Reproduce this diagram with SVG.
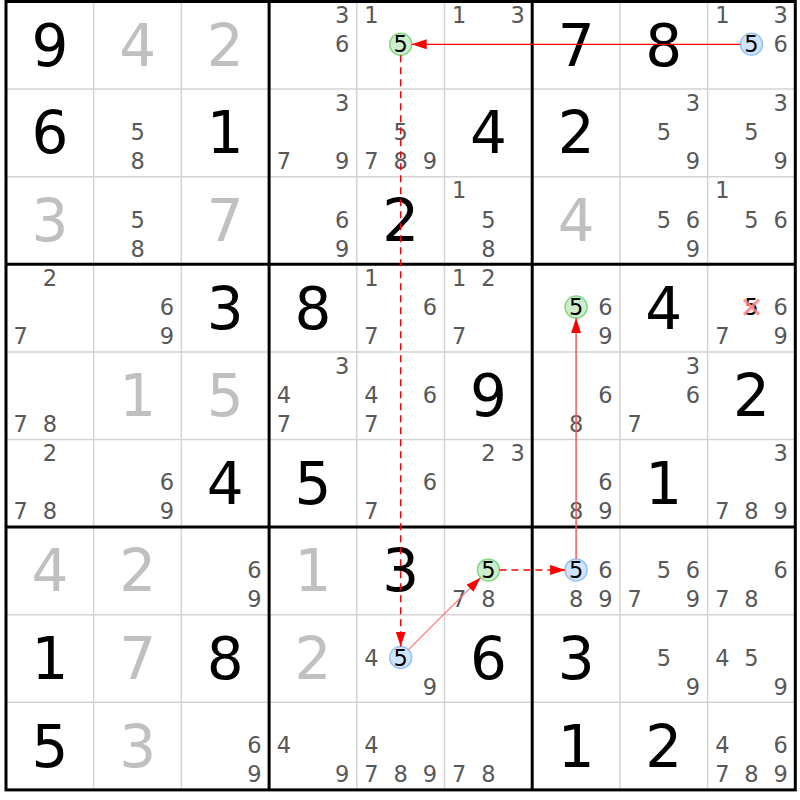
<svg xmlns="http://www.w3.org/2000/svg" width="800" height="800" viewBox="0 0 800 800">
<style>
text{font-family:"DejaVu Sans","Liberation Sans",sans-serif;text-anchor:middle}
.g{font-size:58px;fill:#000}
.h{font-size:58px;fill:#c0c0c0}
.c{font-size:22.5px;fill:#585858}
.k{font-size:22.5px;fill:#000}
.thin{stroke:#d4d4d4;stroke-width:1.5}
.thick{stroke:#000;stroke-width:3;fill:none}
.gc{fill:#cdeecd;stroke:#86d886;stroke-width:1.5}
.bc{fill:#cfe3fa;stroke:#98c4f2;stroke-width:1.5}
</style>
<defs>
<marker id="ah" markerUnits="userSpaceOnUse" markerWidth="16" markerHeight="11" refX="15" refY="5" orient="auto"><path d="M0,0 L15,5 L0,10 z" fill="#ff0000"/></marker>
</defs>
<rect width="800" height="800" fill="#fff"/>
<g id="grid">
<path class="thin" d="M93.7,1.5V789.9M181.4,1.5V789.9M356.8,1.5V789.9M444.5,1.5V789.9M619.9,1.5V789.9M707.6,1.5V789.9M6,89.1H795.3M6,176.7H795.3M6,351.9H795.3M6,439.5H795.3M6,614.7H795.3M6,702.3H795.3"/>
<path class="thick" d="M269.1,1.5V789.9M532.2,1.5V789.9M6,264.3H795.3M6,527.1H795.3"/>
<rect class="thick" x="6" y="1.5" width="789.3" height="788.4"/>
</g>
<g id="cells">
<g id="r1c1" transform="translate(49.9,45.3)"><text class="g" y="20.5">9</text></g>
<g id="r1c2" transform="translate(137.6,45.3)"><text class="h" y="20.5">4</text></g>
<g id="r1c3" transform="translate(225.3,45.3)"><text class="h" y="20.5">2</text></g>
<g id="r1c4" transform="translate(313,45.3)"><text class="c" x="29.2" y="-22.2">3</text><text class="c" x="29.2" y="7">6</text></g>
<g id="r1c5" transform="translate(400.7,45.3)"><text class="c" x="-29.2" y="-22.2">1</text><circle class="gc" cx="0" cy="-1" r="11"/><text class="k" x="0" y="7">5</text></g>
<g id="r1c6" transform="translate(488.4,45.3)"><text class="c" x="-29.2" y="-22.2">1</text><text class="c" x="29.2" y="-22.2">3</text></g>
<g id="r1c7" transform="translate(576.1,45.3)"><text class="g" y="20.5">7</text></g>
<g id="r1c8" transform="translate(663.8,45.3)"><text class="g" y="20.5">8</text></g>
<g id="r1c9" transform="translate(751.5,45.3)"><text class="c" x="-29.2" y="-22.2">1</text><text class="c" x="29.2" y="-22.2">3</text><circle class="bc" cx="0" cy="-1" r="11"/><text class="k" x="0" y="7">5</text><text class="c" x="29.2" y="7">6</text></g>

<g id="r2c1" transform="translate(49.9,132.9)"><text class="g" y="20.5">6</text></g>
<g id="r2c2" transform="translate(137.6,132.9)"><text class="c" x="0" y="7">5</text><text class="c" x="0" y="36.2">8</text></g>
<g id="r2c3" transform="translate(225.3,132.9)"><text class="g" y="20.5">1</text></g>
<g id="r2c4" transform="translate(313,132.9)"><text class="c" x="29.2" y="-22.2">3</text><text class="c" x="-29.2" y="36.2">7</text><text class="c" x="29.2" y="36.2">9</text></g>
<g id="r2c5" transform="translate(400.7,132.9)"><text class="c" x="0" y="7">5</text><text class="c" x="-29.2" y="36.2">7</text><text class="c" x="0" y="36.2">8</text><text class="c" x="29.2" y="36.2">9</text></g>
<g id="r2c6" transform="translate(488.4,132.9)"><text class="g" y="20.5">4</text></g>
<g id="r2c7" transform="translate(576.1,132.9)"><text class="g" y="20.5">2</text></g>
<g id="r2c8" transform="translate(663.8,132.9)"><text class="c" x="29.2" y="-22.2">3</text><text class="c" x="0" y="7">5</text><text class="c" x="29.2" y="36.2">9</text></g>
<g id="r2c9" transform="translate(751.5,132.9)"><text class="c" x="29.2" y="-22.2">3</text><text class="c" x="0" y="7">5</text><text class="c" x="29.2" y="36.2">9</text></g>

<g id="r3c1" transform="translate(49.9,220.5)"><text class="h" y="20.5">3</text></g>
<g id="r3c2" transform="translate(137.6,220.5)"><text class="c" x="0" y="7">5</text><text class="c" x="0" y="36.2">8</text></g>
<g id="r3c3" transform="translate(225.3,220.5)"><text class="h" y="20.5">7</text></g>
<g id="r3c4" transform="translate(313,220.5)"><text class="c" x="29.2" y="7">6</text><text class="c" x="29.2" y="36.2">9</text></g>
<g id="r3c5" transform="translate(400.7,220.5)"><text class="g" y="20.5">2</text></g>
<g id="r3c6" transform="translate(488.4,220.5)"><text class="c" x="-29.2" y="-22.2">1</text><text class="c" x="0" y="7">5</text><text class="c" x="0" y="36.2">8</text></g>
<g id="r3c7" transform="translate(576.1,220.5)"><text class="h" y="20.5">4</text></g>
<g id="r3c8" transform="translate(663.8,220.5)"><text class="c" x="0" y="7">5</text><text class="c" x="29.2" y="7">6</text><text class="c" x="29.2" y="36.2">9</text></g>
<g id="r3c9" transform="translate(751.5,220.5)"><text class="c" x="-29.2" y="-22.2">1</text><text class="c" x="0" y="7">5</text><text class="c" x="29.2" y="7">6</text></g>

<g id="r4c1" transform="translate(49.9,308.1)"><text class="c" x="0" y="-22.2">2</text><text class="c" x="-29.2" y="36.2">7</text></g>
<g id="r4c2" transform="translate(137.6,308.1)"><text class="c" x="29.2" y="7">6</text><text class="c" x="29.2" y="36.2">9</text></g>
<g id="r4c3" transform="translate(225.3,308.1)"><text class="g" y="20.5">3</text></g>
<g id="r4c4" transform="translate(313,308.1)"><text class="g" y="20.5">8</text></g>
<g id="r4c5" transform="translate(400.7,308.1)"><text class="c" x="-29.2" y="-22.2">1</text><text class="c" x="29.2" y="7">6</text><text class="c" x="-29.2" y="36.2">7</text></g>
<g id="r4c6" transform="translate(488.4,308.1)"><text class="c" x="-29.2" y="-22.2">1</text><text class="c" x="0" y="-22.2">2</text><text class="c" x="-29.2" y="36.2">7</text></g>
<g id="r4c7" transform="translate(576.1,308.1)"><circle class="gc" cx="0" cy="-1" r="11"/><text class="k" x="0" y="7">5</text><text class="c" x="29.2" y="7">6</text><text class="c" x="29.2" y="36.2">9</text></g>
<g id="r4c8" transform="translate(663.8,308.1)"><text class="g" y="20.5">4</text></g>
<g id="r4c9" transform="translate(751.5,308.1)"><text class="k" x="0" y="7">5</text><path d="M-7.5,-8.5L7.5,6.5M7.5,-8.5L-7.5,6.5" stroke="#ff8080" stroke-opacity="0.85" stroke-width="3" fill="none"/><text class="c" x="29.2" y="7">6</text><text class="c" x="-29.2" y="36.2">7</text><text class="c" x="29.2" y="36.2">9</text></g>

<g id="r5c1" transform="translate(49.9,395.7)"><text class="c" x="-29.2" y="36.2">7</text><text class="c" x="0" y="36.2">8</text></g>
<g id="r5c2" transform="translate(137.6,395.7)"><text class="h" y="20.5">1</text></g>
<g id="r5c3" transform="translate(225.3,395.7)"><text class="h" y="20.5">5</text></g>
<g id="r5c4" transform="translate(313,395.7)"><text class="c" x="29.2" y="-22.2">3</text><text class="c" x="-29.2" y="7">4</text><text class="c" x="-29.2" y="36.2">7</text></g>
<g id="r5c5" transform="translate(400.7,395.7)"><text class="c" x="-29.2" y="7">4</text><text class="c" x="29.2" y="7">6</text><text class="c" x="-29.2" y="36.2">7</text></g>
<g id="r5c6" transform="translate(488.4,395.7)"><text class="g" y="20.5">9</text></g>
<g id="r5c7" transform="translate(576.1,395.7)"><text class="c" x="29.2" y="7">6</text><text class="c" x="0" y="36.2">8</text></g>
<g id="r5c8" transform="translate(663.8,395.7)"><text class="c" x="29.2" y="-22.2">3</text><text class="c" x="29.2" y="7">6</text><text class="c" x="-29.2" y="36.2">7</text></g>
<g id="r5c9" transform="translate(751.5,395.7)"><text class="g" y="20.5">2</text></g>

<g id="r6c1" transform="translate(49.9,483.3)"><text class="c" x="0" y="-22.2">2</text><text class="c" x="-29.2" y="36.2">7</text><text class="c" x="0" y="36.2">8</text></g>
<g id="r6c2" transform="translate(137.6,483.3)"><text class="c" x="29.2" y="7">6</text><text class="c" x="29.2" y="36.2">9</text></g>
<g id="r6c3" transform="translate(225.3,483.3)"><text class="g" y="20.5">4</text></g>
<g id="r6c4" transform="translate(313,483.3)"><text class="g" y="20.5">5</text></g>
<g id="r6c5" transform="translate(400.7,483.3)"><text class="c" x="29.2" y="7">6</text><text class="c" x="-29.2" y="36.2">7</text></g>
<g id="r6c6" transform="translate(488.4,483.3)"><text class="c" x="0" y="-22.2">2</text><text class="c" x="29.2" y="-22.2">3</text></g>
<g id="r6c7" transform="translate(576.1,483.3)"><text class="c" x="29.2" y="7">6</text><text class="c" x="0" y="36.2">8</text><text class="c" x="29.2" y="36.2">9</text></g>
<g id="r6c8" transform="translate(663.8,483.3)"><text class="g" y="20.5">1</text></g>
<g id="r6c9" transform="translate(751.5,483.3)"><text class="c" x="29.2" y="-22.2">3</text><text class="c" x="-29.2" y="36.2">7</text><text class="c" x="0" y="36.2">8</text><text class="c" x="29.2" y="36.2">9</text></g>

<g id="r7c1" transform="translate(49.9,570.9)"><text class="h" y="20.5">4</text></g>
<g id="r7c2" transform="translate(137.6,570.9)"><text class="h" y="20.5">2</text></g>
<g id="r7c3" transform="translate(225.3,570.9)"><text class="c" x="29.2" y="7">6</text><text class="c" x="29.2" y="36.2">9</text></g>
<g id="r7c4" transform="translate(313,570.9)"><text class="h" y="20.5">1</text></g>
<g id="r7c5" transform="translate(400.7,570.9)"><text class="g" y="20.5">3</text></g>
<g id="r7c6" transform="translate(488.4,570.9)"><circle class="gc" cx="0" cy="-1" r="11"/><text class="k" x="0" y="7">5</text><text class="c" x="-29.2" y="36.2">7</text><text class="c" x="0" y="36.2">8</text></g>
<g id="r7c7" transform="translate(576.1,570.9)"><circle class="bc" cx="0" cy="-1" r="11"/><text class="k" x="0" y="7">5</text><text class="c" x="29.2" y="7">6</text><text class="c" x="0" y="36.2">8</text><text class="c" x="29.2" y="36.2">9</text></g>
<g id="r7c8" transform="translate(663.8,570.9)"><text class="c" x="0" y="7">5</text><text class="c" x="29.2" y="7">6</text><text class="c" x="-29.2" y="36.2">7</text><text class="c" x="29.2" y="36.2">9</text></g>
<g id="r7c9" transform="translate(751.5,570.9)"><text class="c" x="29.2" y="7">6</text><text class="c" x="-29.2" y="36.2">7</text><text class="c" x="0" y="36.2">8</text></g>

<g id="r8c1" transform="translate(49.9,658.5)"><text class="g" y="20.5">1</text></g>
<g id="r8c2" transform="translate(137.6,658.5)"><text class="h" y="20.5">7</text></g>
<g id="r8c3" transform="translate(225.3,658.5)"><text class="g" y="20.5">8</text></g>
<g id="r8c4" transform="translate(313,658.5)"><text class="h" y="20.5">2</text></g>
<g id="r8c5" transform="translate(400.7,658.5)"><text class="c" x="-29.2" y="7">4</text><circle class="bc" cx="0" cy="-1" r="11"/><text class="k" x="0" y="7">5</text><text class="c" x="29.2" y="36.2">9</text></g>
<g id="r8c6" transform="translate(488.4,658.5)"><text class="g" y="20.5">6</text></g>
<g id="r8c7" transform="translate(576.1,658.5)"><text class="g" y="20.5">3</text></g>
<g id="r8c8" transform="translate(663.8,658.5)"><text class="c" x="0" y="7">5</text><text class="c" x="29.2" y="36.2">9</text></g>
<g id="r8c9" transform="translate(751.5,658.5)"><text class="c" x="-29.2" y="7">4</text><text class="c" x="0" y="7">5</text><text class="c" x="29.2" y="36.2">9</text></g>

<g id="r9c1" transform="translate(49.9,746.1)"><text class="g" y="20.5">5</text></g>
<g id="r9c2" transform="translate(137.6,746.1)"><text class="h" y="20.5">3</text></g>
<g id="r9c3" transform="translate(225.3,746.1)"><text class="c" x="29.2" y="7">6</text><text class="c" x="29.2" y="36.2">9</text></g>
<g id="r9c4" transform="translate(313,746.1)"><text class="c" x="-29.2" y="7">4</text><text class="c" x="29.2" y="36.2">9</text></g>
<g id="r9c5" transform="translate(400.7,746.1)"><text class="c" x="-29.2" y="7">4</text><text class="c" x="-29.2" y="36.2">7</text><text class="c" x="0" y="36.2">8</text><text class="c" x="29.2" y="36.2">9</text></g>
<g id="r9c6" transform="translate(488.4,746.1)"><text class="c" x="-29.2" y="36.2">7</text><text class="c" x="0" y="36.2">8</text></g>
<g id="r9c7" transform="translate(576.1,746.1)"><text class="g" y="20.5">1</text></g>
<g id="r9c8" transform="translate(663.8,746.1)"><text class="g" y="20.5">2</text></g>
<g id="r9c9" transform="translate(751.5,746.1)"><text class="c" x="-29.2" y="7">4</text><text class="c" x="29.2" y="7">6</text><text class="c" x="-29.2" y="36.2">7</text><text class="c" x="0" y="36.2">8</text><text class="c" x="29.2" y="36.2">9</text></g>
</g>
<g id="connectors" fill="none">
<line x1="740.5" y1="44.3" x2="411.7" y2="44.3" stroke="#ff0000" stroke-width="1.2" marker-end="url(#ah)"/>
<line x1="400.7" y1="55.3" x2="400.7" y2="646.5" stroke="#ff0000" stroke-width="1.5" stroke-dasharray="7,5" marker-end="url(#ah)"/>
<line x1="408.5" y1="649.7" x2="480.6" y2="577.7" stroke="#ff7070" stroke-width="1.2" marker-end="url(#ah)"/>
<line x1="499.4" y1="569.9" x2="565.1" y2="569.9" stroke="#ff0000" stroke-width="1.5" stroke-dasharray="7,5" marker-end="url(#ah)"/>
<line x1="576.1" y1="558.9" x2="576.1" y2="318.1" stroke="#ff5555" stroke-width="1.5" marker-end="url(#ah)"/>
</g>
</svg>
